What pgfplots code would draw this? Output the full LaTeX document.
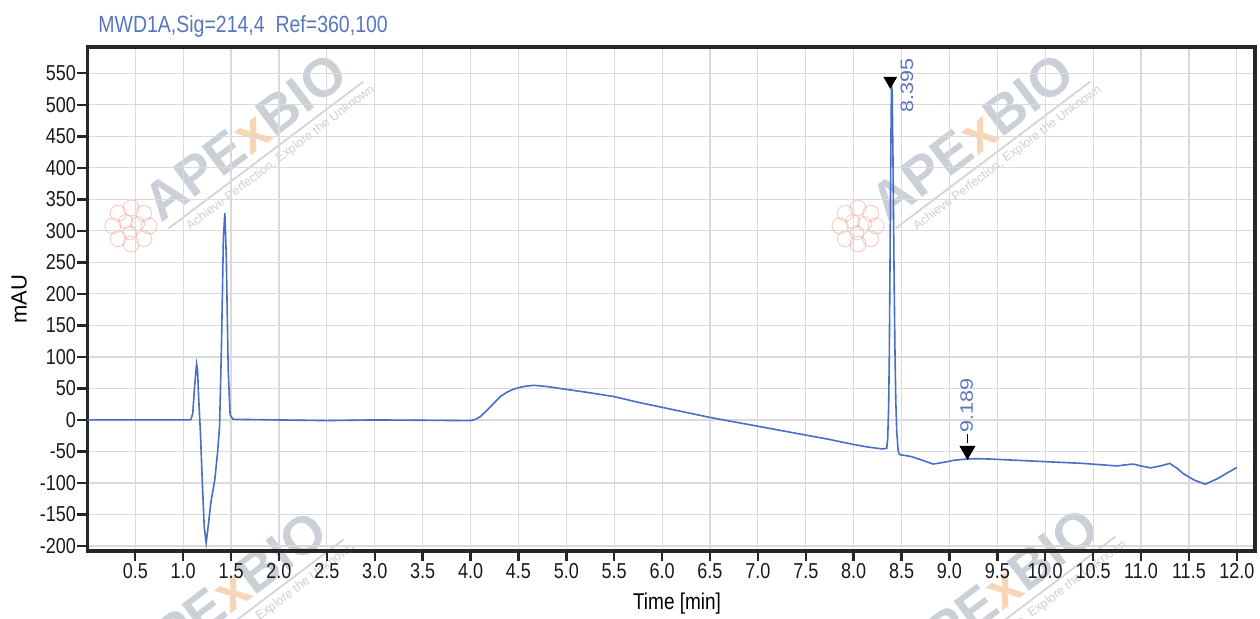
\documentclass[border=0pt]{standalone}
\usepackage{fontspec}
\setmainfont{Liberation Sans}
\usepackage{pgfplots}
\pgfplotsset{compat=1.18}

\definecolor{trace}{RGB}{72,110,198}
\definecolor{titleblue}{RGB}{88,118,192}
\definecolor{gridgray}{RGB}{218,218,218}
\definecolor{wmgray}{RGB}{150,162,172}
\definecolor{wmorange}{RGB}{242,172,112}
\definecolor{wmpink}{RGB}{232,150,130}

% faint APExBIO watermark, centred on the word
\newcommand{\wmark}[2]{%
  \begin{scope}[shift={(#1,#2)}]
    \begin{scope}[rotate=37, transform shape]
      \node[text=wmgray, text opacity=0.5, font=\bfseries\fontsize{27}{27}\selectfont, inner sep=0pt]
        at (0,0) {APE\textcolor{wmorange}{x}BIO};
      \draw[wmgray, opacity=0.45, line width=0.9pt] (-58pt,-13.5pt) -- (64pt,-13.5pt);
      \node[text=wmgray, text opacity=0.5, font=\fontsize{6.3}{6.3}\selectfont, inner sep=0pt, anchor=north]
        at (8pt,-16pt) {Achieve Perfection, Explore the Unknown};
    \end{scope}
    \foreach \a in {0,45,...,315}
      \draw[wmpink, opacity=0.45, line width=0.5pt] (-57pt,-44.5pt) ++(\a:9pt) circle (4pt);
    \foreach \a in {20,140,260}
      \draw[wmpink, opacity=0.45, line width=0.5pt] (-57pt,-44.5pt) ++(\a:3.5pt) circle (3.5pt);
  \end{scope}}

\begin{document}
\begin{tikzpicture}
\wmark{78.8pt}{207pt}
\wmark{442.3pt}{207pt}
\wmark{68.8pt}{-22pt}
\wmark{454.8pt}{-20.5pt}

\begin{axis}[
    scale only axis,
    width=583.8pt, height=252pt,
    at={(0,0)}, anchor=south west,
    xmin=0, xmax=12.19,
    ymin=-207.9, ymax=591.7,
    xtick={0.5,1,1.5,2,2.5,3,3.5,4,4.5,5,5.5,6,6.5,7,7.5,8,8.5,9,9.5,10,10.5,11,11.5,12},
    ytick={-200,-150,...,550},
    x tick label style={/pgf/number format/fixed, /pgf/number format/fixed zerofill,
      /pgf/number format/precision=1},
    /pgf/number format/assume math mode=true,
    tick pos=left,
    tick align=outside,
    major tick length=5pt,
    every tick/.style={line width=1.2pt, black!85},
    axis line style={line width=1.75pt, draw=black!85},
    grid=major,
    major grid style={draw=gridgray, line width=0.6pt},
    tick label style={font=\fontsize{9}{10}\selectfont, text=black!90, yscale=1.2},
    xticklabel style={inner sep=1pt},
    yticklabel style={inner sep=0.5pt},
    xlabel={Time [min]},
    ylabel={mAU},
    xlabel style={at={(axis description cs:0.505,-0.105)}, anchor=center,
      font=\fontsize{9.5}{11}\selectfont, yscale=1.2},
    ylabel style={at={(axis description cs:-0.0585,0.5)}, anchor=center, rotate=0,
      font=\fontsize{11}{12}\selectfont},
    clip=false,
]

\addplot[trace, line width=0.8pt] coordinates {
(0,0) (0.5,0) (1.0,0) (1.08,0.5) (1.10,10) (1.12,55) (1.14,89) (1.15,80) (1.16,40)
(1.18,-20) (1.20,-100) (1.22,-170) (1.24,-195) (1.26,-170) (1.29,-130) (1.33,-95)
(1.36,-50) (1.38,-10) (1.40,120) (1.42,290) (1.435,328) (1.45,260) (1.47,80)
(1.49,8) (1.52,1) (2.0,0) (2.5,-1) (3.0,0) (3.5,-0.5) (3.9,-1) (4.0,-1)
(4.05,1) (4.1,5) (4.17,15) (4.24,26) (4.31,37) (4.38,44) (4.45,49) (4.55,53)
(4.66,55) (4.8,53) (5.0,48.5) (5.25,43) (5.5,37) (5.75,28) (6.0,20) (6.25,12)
(6.5,4) (6.75,-3) (7.0,-10) (7.25,-17) (7.5,-24) (7.75,-31) (8.0,-39) (8.15,-43)
(8.30,-46) (8.345,-45) (8.355,-30) (8.365,20) (8.372,100) (8.38,260) (8.388,430)
(8.395,533) (8.402,520) (8.41,420) (8.42,260) (8.43,120) (8.44,30) (8.45,-20)
(8.465,-50) (8.48,-55) (8.6,-58) (8.7,-63) (8.83,-70) (8.95,-67) (9.05,-64)
(9.18,-62) (9.3,-61.5) (9.42,-62) (9.7,-64) (10.05,-66.5) (10.4,-69) (10.75,-73)
(10.85,-71) (10.92,-70) (11.0,-73) (11.1,-76) (11.2,-73) (11.3,-69) (11.37,-76)
(11.44,-85) (11.55,-95) (11.67,-102) (11.8,-93) (11.9,-84) (12.0,-75.5)
};

% peak markers
\addplot[only marks, mark=triangle*, mark size=3.6pt, black,
  mark options={rotate=180}] coordinates {(8.382,538)};
\addplot[only marks, mark=triangle*, mark size=4.3pt, black,
  mark options={rotate=180}] coordinates {(9.188,-48.4)};
\addplot[black, line width=0.9pt] coordinates {(9.189,-22.5) (9.189,-36)};

\node[text=titleblue, font=\fontsize{9}{10}\selectfont, rotate=90, xscale=1.2, inner sep=0pt]
  at (axis cs:8.555,531) {8.395};
\node[text=titleblue, font=\fontsize{9}{10}\selectfont, rotate=90, xscale=1.2, inner sep=0pt]
  at (axis cs:9.18,23.5) {9.189};

\node[anchor=base west, text=titleblue, font=\fontsize{9.75}{11}\selectfont, yscale=1.2, inner sep=0pt]
  at ([shift={(5.3pt,7pt)}]rel axis cs:0,1) {MWD1A,Sig=214,4\ \ Ref=360,100};
\end{axis}

\pgfresetboundingbox
\useasboundingbox (-43.7pt,-34pt) rectangle (586.3pt,275.5pt);
\end{tikzpicture}
\end{document}
